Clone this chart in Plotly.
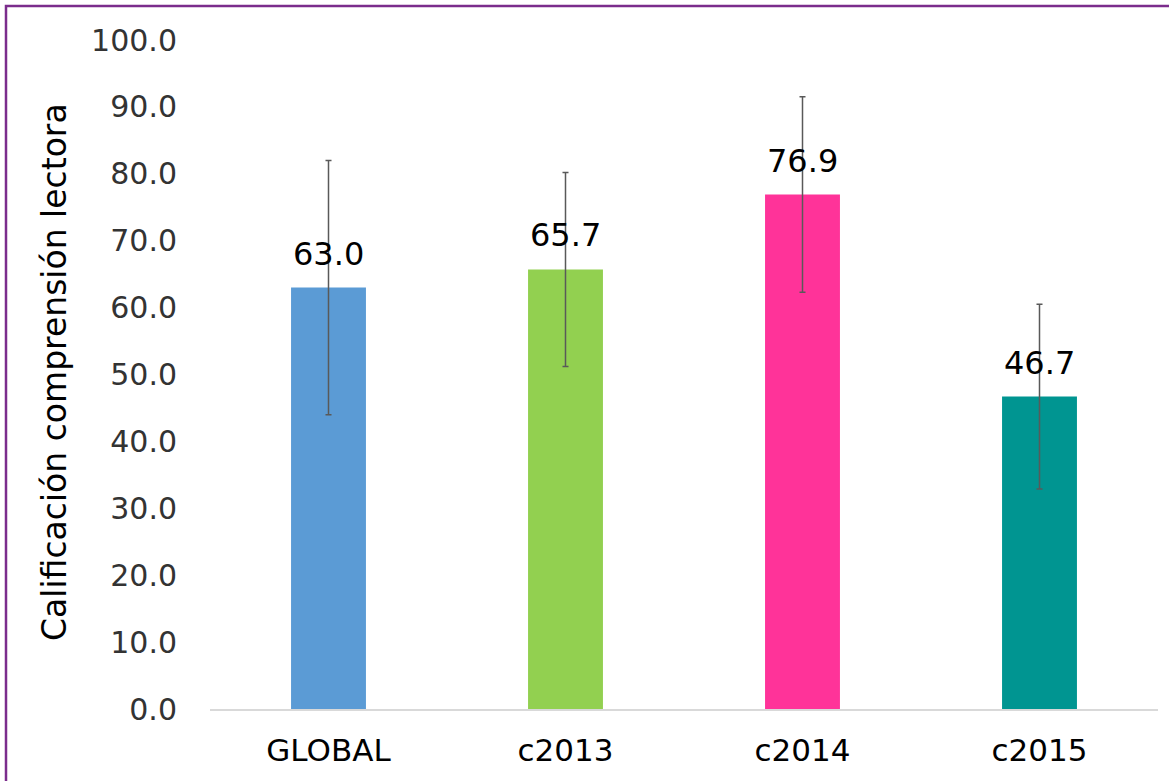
import plotly.graph_objects as go

categories = ["GLOBAL", "c2013", "c2014", "c2015"]
values = [63.0, 65.7, 76.9, 46.7]
errors = [19.0, 14.5, 14.6, 13.8]
colors = ["#5B9BD5", "#92D050", "#FF3399", "#009591"]
label_texts = ["63.0", "65.7", "76.9", "46.7"]
y_ticks = [0, 10, 20, 30, 40, 50, 60, 70, 80, 90, 100]

# body margin is removed by post_script, so figure sits at page origin
W, H = 1169, 781
ml, mr, mt, mb = 210, 11, 40, 72
pw = W - ml - mr
ph = H - mt - mb

font = "DejaVu Sans"

def px_x(x_page):
    return (x_page - ml) / pw

def px_y(y_page):
    return (H - mb - y_page) / ph

fig = go.Figure()
fig.add_trace(go.Bar(
    x=categories, y=values,
    marker=dict(color=colors, line=dict(width=0)),
    width=0.316,
    error_y=dict(type="data", array=errors, visible=True,
                 color="#595959", thickness=1.5, width=3),
    showlegend=False,
))

annotations = []
for c, v, t in zip(categories, values, label_texts):
    annotations.append(dict(x=c, y=v, xref="x", yref="y", text=t,
                            showarrow=False, yanchor="middle", yshift=34,
                            font=dict(family=font, size=32, color="#000000")))

annotations.append(dict(xref="paper", yref="paper",
                        x=px_x(54), y=px_y(372),
                        text="Calificación comprensión lectora",
                        textangle=-90, showarrow=False,
                        xanchor="center", yanchor="middle",
                        font=dict(family=font, size=33, color="#000000")))

fig.update_layout(
    width=W, height=H,
    margin=dict(l=ml, r=mr, t=mt, b=mb, autoexpand=False),
    paper_bgcolor="white", plot_bgcolor="white",
    annotations=annotations,
    shapes=[dict(type="rect", xref="paper", yref="paper",
                 x0=px_x(6), x1=px_x(1190),
                 y0=px_y(800), y1=px_y(6),
                 line=dict(color="#7B2C8C", width=2.5), layer="below")],
    xaxis=dict(showgrid=False, showline=True, linecolor="#D9D9D9", linewidth=1.5,
               ticks="", ticklabelstandoff=13,
               tickfont=dict(family=font, size=31, color="#000000")),
    yaxis=dict(range=[0, 100], tickvals=y_ticks, tickformat=".1f",
               showgrid=False, showline=False, zeroline=False, ticks="",
               ticklabelstandoff=32,
               tickfont=dict(family=font, size=30, color="#333333")),
)

fig.write_html("out.html",
               config={"displayModeBar": False},
               post_script="document.body.style.margin='0px';document.body.style.overflow='hidden';")
